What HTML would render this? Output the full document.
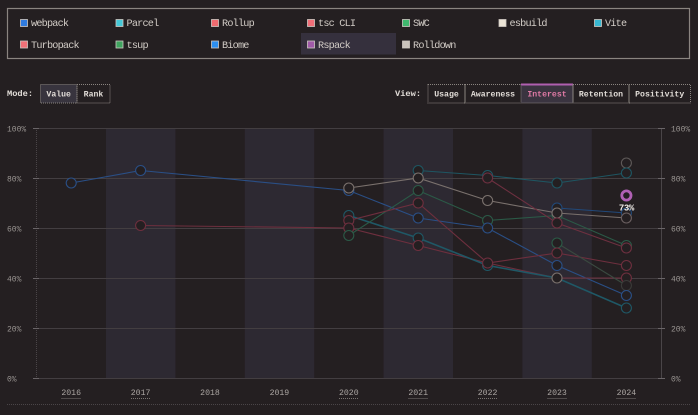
<!DOCTYPE html>
<html><head><meta charset="utf-8">
<style>
html,body{margin:0;padding:0;background:#241f21;}
svg{display:block;}
text{font-family:"Liberation Mono",monospace;}
</style></head>
<body>
<svg width="698" height="415" viewBox="0 0 698 415" xmlns="http://www.w3.org/2000/svg">
<rect x="0" y="0" width="698" height="415" fill="#241f21"/>
<!-- legend -->
<rect x="7.5" y="8.5" width="682" height="50" fill="none" stroke="#8a8480" stroke-width="1.2"/>
<rect x="301" y="33" width="95" height="21.5" fill="#35303d"/>
<g font-size="10.2" letter-spacing="-0.8" fill="#d2ccc6">
 <g stroke="#cfc8c2" stroke-width="0.8">
  <rect x="20.5" y="19.5" width="7" height="7" fill="#2f7be0"/>
  <rect x="116" y="19.5" width="7" height="7" fill="#45c8d8"/>
  <rect x="211.5" y="19.5" width="7" height="7" fill="#ef6a6f"/>
  <rect x="307.5" y="19.5" width="7" height="7" fill="#f06e78"/>
  <rect x="402.5" y="19.5" width="7" height="7" fill="#3fb86e"/>
  <rect x="499" y="19.5" width="7" height="7" fill="#ece4d6"/>
  <rect x="594.5" y="19.5" width="7" height="7" fill="#38b8d2"/>
  <rect x="20.5" y="41" width="7" height="7" fill="#f07077"/>
  <rect x="116" y="41" width="7" height="7" fill="#3fa35f"/>
  <rect x="211.5" y="41" width="7" height="7" fill="#2d8ff0"/>
  <rect x="307.5" y="41" width="7" height="7" fill="#a05aa8"/>
  <rect x="402.5" y="41" width="7" height="7" fill="#cac3bc"/>
 </g>
 <text x="31" y="26">webpack</text>
 <text x="126.5" y="26">Parcel</text>
 <text x="222" y="26">Rollup</text>
 <text x="318" y="26">tsc CLI</text>
 <text x="413" y="26">SWC</text>
 <text x="509.5" y="26">esbuild</text>
 <text x="605" y="26">Vite</text>
 <text x="31" y="48">Turbopack</text>
 <text x="126.5" y="48">tsup</text>
 <text x="222" y="48">Biome</text>
 <text x="318" y="48">Rspack</text>
 <text x="413" y="48">Rolldown</text>
</g>
<!-- mode -->
<g font-size="8.2" font-weight="bold" fill="#e2ddd8">
 <text x="7" y="96" font-size="8.7">Mode:</text>
 <rect x="40.5" y="84.5" width="36.5" height="18.5" fill="#38343e" stroke="#8a8480" stroke-dasharray="1,1"/>
 <rect x="77" y="84.5" width="33" height="18.5" fill="none" stroke="#8a8480" stroke-dasharray="1,1"/>
 <text x="58.7" y="96.5" text-anchor="middle">Value</text>
 <text x="93.5" y="96.5" text-anchor="middle">Rank</text>
 <text x="395" y="96" font-size="8.7">View:</text>
 <rect x="428" y="84.5" width="37" height="18.5" fill="none" stroke="#8a8480" stroke-dasharray="1,1"/>
 <rect x="465" y="84.5" width="56" height="18.5" fill="none" stroke="#8a8480" stroke-dasharray="1,1"/>
 <rect x="521" y="84.5" width="52" height="18.5" fill="#3a3440" stroke="#8a8480" stroke-dasharray="1,1"/>
 <line x1="521" y1="84.5" x2="573" y2="84.5" stroke="#b05fb0" stroke-width="2"/>
 <line x1="573" y1="84.5" x2="573" y2="103" stroke="#8a8480" stroke-width="1"/>
 <rect x="573" y="84.5" width="56" height="18.5" fill="none" stroke="#8a8480" stroke-dasharray="1,1"/>
 <rect x="629" y="84.5" width="61.5" height="18.5" fill="none" stroke="#8a8480" stroke-dasharray="1,1"/>
 <text x="446.5" y="96.5" text-anchor="middle">Usage</text>
 <text x="493" y="96.5" text-anchor="middle">Awareness</text>
 <text x="547" y="96.5" text-anchor="middle" fill="#e07aa6">Interest</text>
 <text x="601" y="96.5" text-anchor="middle">Retention</text>
 <text x="659.7" y="96.5" text-anchor="middle">Positivity</text>
</g>
<!-- bands -->
<g fill="#2d2932">
 <rect x="106" y="128" width="69.4" height="250"/>
 <rect x="244.8" y="128" width="69.4" height="250"/>
 <rect x="383.6" y="128" width="69.4" height="250"/>
 <rect x="522.4" y="128" width="69.4" height="250"/>
</g>
<!-- grid -->
<g stroke="#433e41" stroke-width="1">
 <line x1="36" y1="128.5" x2="662" y2="128.5"/>
 <line x1="36" y1="178.5" x2="662" y2="178.5"/>
 <line x1="36" y1="228.5" x2="662" y2="228.5"/>
 <line x1="36" y1="278.5" x2="662" y2="278.5"/>
 <line x1="36" y1="328.5" x2="662" y2="328.5"/>
 <line x1="36" y1="378.5" x2="662" y2="378.5"/>
</g>
<line x1="36.5" y1="128" x2="36.5" y2="378" stroke="#4a4548" stroke-dasharray="1,1"/>
<line x1="661.5" y1="128" x2="661.5" y2="378" stroke="#4a4548"/>
<g stroke="#6a6568">
 <line x1="33" y1="128.5" x2="39" y2="128.5"/><line x1="33" y1="178.5" x2="39" y2="178.5"/>
 <line x1="33" y1="228.5" x2="39" y2="228.5"/><line x1="33" y1="278.5" x2="39" y2="278.5"/>
 <line x1="33" y1="328.5" x2="39" y2="328.5"/><line x1="33" y1="378.5" x2="39" y2="378.5"/>
 <line x1="658" y1="128.5" x2="665" y2="128.5"/><line x1="658" y1="178.5" x2="665" y2="178.5"/>
 <line x1="658" y1="228.5" x2="665" y2="228.5"/><line x1="658" y1="278.5" x2="665" y2="278.5"/>
 <line x1="658" y1="328.5" x2="665" y2="328.5"/><line x1="658" y1="378.5" x2="665" y2="378.5"/>
</g>
<g font-size="8" fill="#9a9592">
 <text x="7" y="131.5">100%</text><text x="7" y="181.5">80%</text><text x="7" y="231.5">60%</text>
 <text x="7" y="281.5">40%</text><text x="7" y="331.5">20%</text><text x="7" y="381.5">0%</text>
 <text x="671" y="131.5">100%</text><text x="671" y="181.5">80%</text><text x="671" y="231.5">60%</text>
 <text x="671" y="281.5">40%</text><text x="671" y="331.5">20%</text><text x="671" y="381.5">0%</text>
</g>
<!-- years -->
<g font-size="8.2" fill="#aaa5a2" text-anchor="middle">
 <text x="71.2" y="395">2016</text><text x="140.6" y="395">2017</text><text x="210" y="395">2018</text>
 <text x="279.4" y="395">2019</text><text x="348.8" y="395">2020</text><text x="418.2" y="395">2021</text>
 <text x="487.6" y="395">2022</text><text x="557" y="395">2023</text><text x="626.4" y="395">2024</text>
</g>
<g stroke="#7a7572" stroke-dasharray="1,1">
 <line x1="61.5" y1="398.5" x2="81" y2="398.5"/><line x1="131" y1="398.5" x2="150.5" y2="398.5"/>
 <line x1="339" y1="398.5" x2="358.5" y2="398.5"/><line x1="408.5" y1="398.5" x2="428" y2="398.5"/>
 <line x1="478" y1="398.5" x2="497.5" y2="398.5"/><line x1="547.5" y1="398.5" x2="567" y2="398.5"/>
 <line x1="616.5" y1="398.5" x2="636" y2="398.5"/>
</g>
<line x1="7" y1="404.5" x2="690" y2="404.5" stroke="#4a4548" stroke-dasharray="1,1"/>
<!-- series -->
<g fill="none" stroke-width="1.1">
 <polyline stroke="#2a4f86" points="71.2,183 140.6,170.5 348.8,190.5 418.2,218 487.6,228 557,265.5 626.4,295.5"/>
 <polyline stroke="#6e2f3e" points="140.6,225.5 348.8,228 418.2,245.5 487.6,263 557,278 626.4,278"/>
 <polyline stroke="#1f5866" stroke-width="1.6" points="348.8,215.5 418.2,238 487.6,265.5 557,278 626.4,308"/>
 <polyline stroke="#7a716d" points="348.8,188 418.2,178 487.6,200.5 557,213 626.4,218"/>
 <polyline stroke="#2b5a47" points="348.8,235.5 418.2,190.5 487.6,220.5 557,215.5 626.4,245.5"/>
 <polyline stroke="#1e5662" points="418.2,170.5 487.6,175.5 557,183 626.4,173"/>
 <polyline stroke="#6e2f3e" points="348.8,220.5 418.2,203 487.6,263 557,253 626.4,265.5"/>
 <polyline stroke="#6e3040" points="487.6,178 557,223 626.4,248"/>
 <polyline stroke="#21497a" points="557,208 626.4,213"/>
 <polyline stroke="#3a4a40" points="557,243 626.4,285.5"/>
</g>
<g fill="#241f21" stroke-width="1.1">
 <circle cx="71.2" cy="183" r="5" stroke="#2a4f86"/>
 <circle cx="140.6" cy="170.5" r="5" stroke="#2a4f86"/>
 <circle cx="140.6" cy="225.5" r="5" stroke="#6e2f3e"/>
 <circle cx="348.8" cy="190.5" r="5" stroke="#2a4f86"/>
 <circle cx="348.8" cy="188" r="5" stroke="#7a716d"/>
 <circle cx="348.8" cy="215.5" r="5" stroke="#1f5866"/>
 <circle cx="348.8" cy="220.5" r="5" stroke="#6e2f3e"/>
 <circle cx="348.8" cy="228" r="5" stroke="#6e2f3e"/>
 <circle cx="348.8" cy="235.5" r="5" stroke="#2b5a47"/>
 <circle cx="418.2" cy="170.5" r="5" stroke="#1e5662"/>
 <circle cx="418.2" cy="178" r="5" stroke="#7a716d"/>
 <circle cx="418.2" cy="190.5" r="5" stroke="#2b5a47"/>
 <circle cx="418.2" cy="203" r="5" stroke="#6e2f3e"/>
 <circle cx="418.2" cy="218" r="5" stroke="#2a4f86"/>
 <circle cx="418.2" cy="238" r="5" stroke="#1f5866"/>
 <circle cx="418.2" cy="245.5" r="5" stroke="#6e2f3e"/>
 <circle cx="487.6" cy="175.5" r="5" stroke="#1e5662"/>
 <circle cx="487.6" cy="178" r="5" stroke="#6e3040"/>
 <circle cx="487.6" cy="200.5" r="5" stroke="#7a716d"/>
 <circle cx="487.6" cy="220.5" r="5" stroke="#2b5a47"/>
 <circle cx="487.6" cy="228" r="5" stroke="#2a4f86"/>
 <circle cx="487.6" cy="265.5" r="5" stroke="#1f5866"/>
 <circle cx="487.6" cy="263" r="5" stroke="#6e2f3e"/>
 <circle cx="557" cy="183" r="5" stroke="#1e5662"/>
 <circle cx="557" cy="208" r="5" stroke="#21497a"/>
 <circle cx="557" cy="215.5" r="5" stroke="#2b5a47"/>
 <circle cx="557" cy="213" r="5" stroke="#7a716d"/>
 <circle cx="557" cy="223" r="5" stroke="#6e3040"/>
 <circle cx="557" cy="243" r="5" stroke="#2b5a47"/>
 <circle cx="557" cy="253" r="5" stroke="#6e2f3e"/>
 <circle cx="557" cy="265.5" r="5" stroke="#2a4f86"/>
 <circle cx="557" cy="278" r="5" stroke="#7a716d"/>
 <circle cx="626.4" cy="163" r="5" stroke="#5e5958"/>
 <circle cx="626.4" cy="173" r="5" stroke="#1e5662"/>
 <circle cx="626.4" cy="213" r="5" stroke="#21497a"/>
 <circle cx="626.4" cy="218" r="5" stroke="#6a5f60"/>
 <circle cx="626.4" cy="245.5" r="5" stroke="#2b5a47"/>
 <circle cx="626.4" cy="248" r="5" stroke="#6e3040"/>
 <circle cx="626.4" cy="265.5" r="5" stroke="#6e2f3e"/>
 <circle cx="626.4" cy="278" r="5" stroke="#6e2f3e"/>
 <circle cx="626.4" cy="285.5" r="5" stroke="#3a3a38"/>
 <circle cx="626.4" cy="295.5" r="5" stroke="#2a4f86"/>
 <circle cx="626.4" cy="308" r="5" stroke="#1f5866"/>
</g>
<circle cx="626.4" cy="195.5" r="4.6" fill="#241f21" stroke="#b060b4" stroke-width="2.8"/>
<text x="626.4" y="210.5" font-size="9" font-weight="bold" fill="#f0ece8" text-anchor="middle" letter-spacing="-0.4">73%</text>
</svg>
</body></html>
